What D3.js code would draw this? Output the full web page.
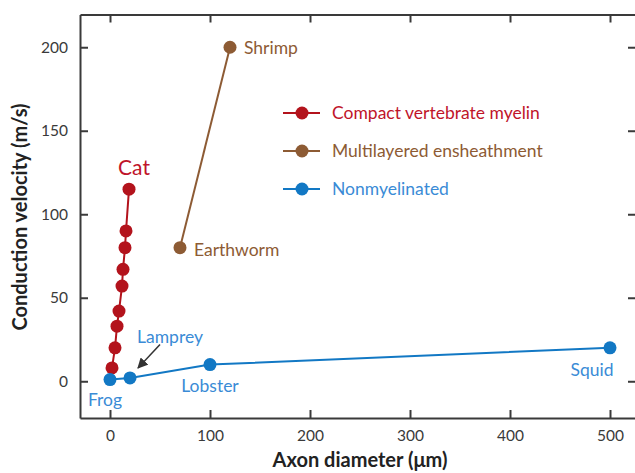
<!DOCTYPE html>
<html><head><meta charset="utf-8">
<script src="https://cdn.jsdelivr.net/npm/d3@7"></script>
<style>body{margin:0;background:#fff}svg{display:block}</style>
</head><body>
<svg id="c" width="635" height="473"></svg>
<script>
const xTicks = [0, 100, 200, 300, 400, 500];
const yTicks = [0, 50, 100, 150, 200];
const catX = [2, 5, 7, 9, 12, 13, 15, 16, 19];
const catY = [8, 20, 33, 42, 57, 67, 80, 90, 115];
const multiX = [70, 120];
const multiY = [80, 200];
const nonX = [0, 20, 100, 500];
const nonY = [1, 2, 10, 20];
const seriesNames = ["Compact vertebrate myelin", "Multilayered ensheathment", "Nonmyelinated"];
const seriesColors = ["#b3131c", "#8d5b34", "#1278c4"];
const labelColors = ["#c0142a", "#8d5b34", "#3a8bd6"];
const pointLabels = [
  {text: "Cat", x: 19, y: 115, s: 0},
  {text: "Shrimp", x: 120, y: 200, s: 1},
  {text: "Earthworm", x: 70, y: 80, s: 1},
  {text: "Frog", x: 0, y: 1, s: 2},
  {text: "Lamprey", x: 20, y: 2, s: 2},
  {text: "Lobster", x: 100, y: 10, s: 2},
  {text: "Squid", x: 500, y: 20, s: 2}
];

const svg = d3.select("#c");
const L = 80, R = 636, T = 14.5, B = 418;
const x = d3.scaleLinear().domain([-30, 526]).range([L, R]);
const y = d3.scaleLinear().domain([-22, 219.6]).range([B, T]);
const font = "Lato, 'Open Sans', sans-serif";
const axisCol = "#3a3a3a";

// axes (ticks inward)
const gB = svg.append("g").attr("transform", `translate(0,${B})`).call(d3.axisBottom(x).tickValues(xTicks).tickSizeInner(-8).tickSizeOuter(0).tickPadding(12));
const gT = svg.append("g").attr("transform", `translate(0,${T})`).call(d3.axisTop(x).tickValues(xTicks).tickSizeInner(-8).tickSizeOuter(0).tickFormat(""));
const gL = svg.append("g").attr("transform", `translate(${L},0)`).call(d3.axisLeft(y).tickValues(yTicks).tickSizeInner(-8).tickSizeOuter(0).tickPadding(12));
const gR = svg.append("g").attr("transform", `translate(${R},0)`).call(d3.axisRight(y).tickValues(yTicks).tickSizeInner(-8).tickSizeOuter(0).tickFormat(""));
[gB, gT, gL, gR].forEach(g => {
  g.selectAll("path.domain").attr("stroke", axisCol).attr("stroke-width", 2);
  g.selectAll(".tick line").attr("stroke", axisCol).attr("stroke-width", 2);
  g.selectAll(".tick text").attr("fill", axisCol).style("font-family", font).style("font-size", "15.5px");
});

// series
const series = [
  catX.map((d, i) => [d, catY[i]]),
  multiX.map((d, i) => [d, multiY[i]]),
  nonX.map((d, i) => [d, nonY[i]])
];
const line = d3.line().x(d => x(d[0])).y(d => y(d[1]));
series.forEach((pts, s) => {
  svg.append("path").attr("d", line(pts)).attr("fill", "none").attr("stroke", seriesColors[s]).attr("stroke-width", 2);
});
series.forEach((pts, s) => {
  svg.selectAll(null).data(pts).enter().append("circle")
    .attr("cx", d => x(d[0])).attr("cy", d => y(d[1])).attr("r", 6.5).attr("fill", seriesColors[s]);
});

// point labels
const offsets = {
  "Cat": [5, -14, "middle", 21],
  "Shrimp": [14, 7, "start", 17.5],
  "Earthworm": [14, 8, "start", 17.5],
  "Frog": [-5, 26, "middle", 17.5],
  "Lamprey": [40, -35, "middle", 17.5],
  "Lobster": [0, 27, "middle", 17.5],
  "Squid": [-18, 28, "middle", 17.5]
};
pointLabels.forEach(p => {
  const o = offsets[p.text];
  svg.append("text").attr("x", x(p.x) + o[0]).attr("y", y(p.y) + o[1])
    .attr("text-anchor", o[2]).attr("fill", labelColors[p.s])
    .style("font-family", font).style("font-size", o[3] + "px").text(p.text);
});

// arrow to Lamprey
svg.append("defs").append("marker").attr("id", "ah").attr("viewBox", "0 0 10 10")
  .attr("refX", 9).attr("refY", 5).attr("markerWidth", 7).attr("markerHeight", 7).attr("orient", "auto")
  .append("path").attr("d", "M0,0L10,5L0,10z").attr("fill", "#333");
svg.append("line").attr("x1", x(50)).attr("y1", y(22)).attr("x2", x(28)).attr("y2", y(8))
  .attr("stroke", "#333").attr("stroke-width", 1.5).attr("marker-end", "url(#ah)");

// legend
const lg = svg.append("g");
seriesNames.forEach((n, i) => {
  const yy = 113 + i * 38;
  lg.append("line").attr("x1", 283).attr("x2", 320).attr("y1", yy).attr("y2", yy).attr("stroke", seriesColors[i]).attr("stroke-width", 2);
  lg.append("circle").attr("cx", 302).attr("cy", yy).attr("r", 6.5).attr("fill", seriesColors[i]);
  lg.append("text").attr("x", 332).attr("y", yy + 6).attr("fill", labelColors[i])
    .style("font-family", font).style("font-size", "17.5px").text(n);
});

// axis titles
svg.append("text").attr("x", 360).attr("y", 467).attr("text-anchor", "middle").attr("fill", "#222")
  .style("font-family", font).style("font-weight", "bold").style("font-size", "20px").text("Axon diameter (μm)");
svg.append("text").attr("transform", "translate(27,217) rotate(-90)").attr("text-anchor", "middle").attr("fill", "#222")
  .style("font-family", font).style("font-weight", "bold").style("font-size", "20px").text("Conduction velocity (m/s)");
</script>
</body></html>
